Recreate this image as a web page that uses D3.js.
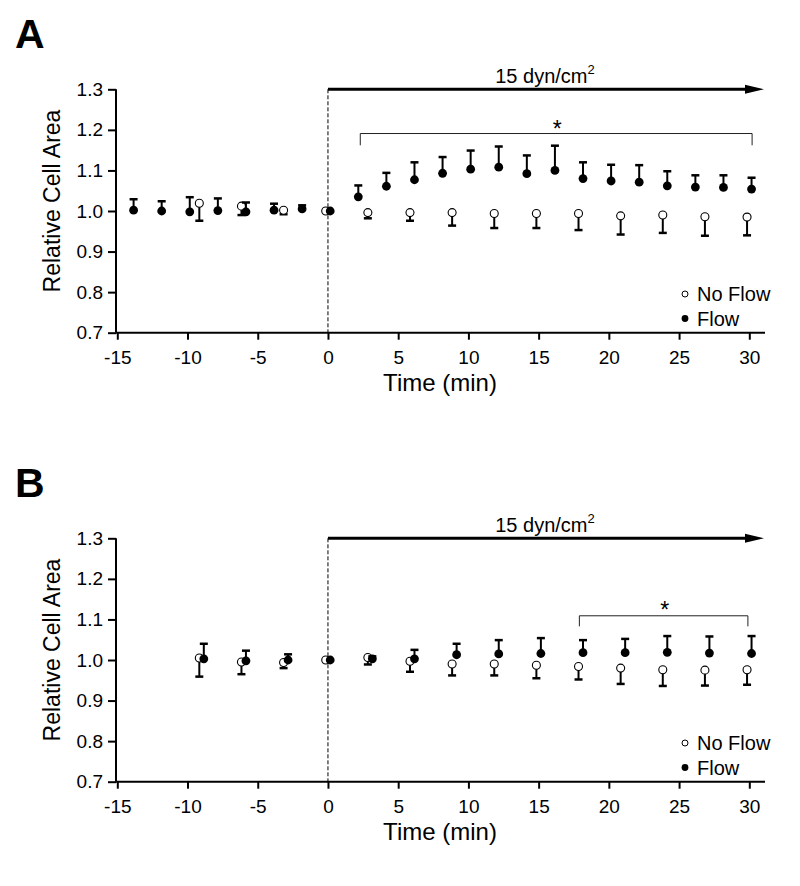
<!DOCTYPE html>
<html>
<head>
<meta charset="utf-8">
<script src="https://cdn.jsdelivr.net/npm/d3@7"></script>
<style>
  html, body { margin: 0; padding: 0; background: #fff; }
  svg { display: block; font-family: "Liberation Sans", Arial, Helvetica, sans-serif; }
</style>
</head>
<body>
<svg id="chart" width="800" height="886"></svg>
<script>
// ---------------- DATA ----------------
const xTicks = [-15, -10, -5, 0, 5, 10, 15, 20, 25, 30];
const xTickLabels = ["-15", "-10", "-5", "0", "5", "10", "15", "20", "25", "30"];
const yTicks = [0.7, 0.8, 0.9, 1.0, 1.1, 1.2, 1.3];
const yTickLabels = ["0.7", "0.8", "0.9", "1.0", "1.1", "1.2", "1.3"];
const seriesNames = ["No Flow", "Flow"];

// Panel A
const aFlowTime  = [-14, -12, -10, -8, -6, -4, -2, 0, 2, 4, 6, 8, 10, 12, 14, 16, 18, 20, 22, 24, 26, 28, 30];
const aFlowMean  = [1.002, 1.000, 0.998, 1.001, 0.998, 1.002, 1.005, 1.000, 1.035, 1.061, 1.077, 1.093, 1.103, 1.108, 1.092, 1.100, 1.080, 1.074, 1.071, 1.062, 1.059, 1.058, 1.054];
const aFlowSE    = [0.027, 0.024, 0.036, 0.030, 0.023, 0.016, 0.009, 0.000, 0.028, 0.033, 0.043, 0.040, 0.046, 0.051, 0.045, 0.061, 0.040, 0.040, 0.042, 0.036, 0.029, 0.030, 0.028];
const aNoFlowTime = [-9, -6, -3, 0, 3, 6, 9, 12, 15, 18, 21, 24, 27, 30];
const aNoFlowMean = [1.019, 1.012, 1.002, 1.000, 0.996, 0.996, 0.996, 0.994, 0.994, 0.994, 0.988, 0.990, 0.986, 0.985];
const aNoFlowSE   = [0.043, 0.022, 0.010, 0.000, 0.014, 0.020, 0.032, 0.036, 0.036, 0.041, 0.046, 0.044, 0.047, 0.045];
const aBracket = [2.3, 30.2];

// Panel B
const bTime       = [-9, -6, -3, 0, 3, 6, 9, 12, 15, 18, 21, 24, 27, 30];
const bFlowMean   = [1.003, 0.998, 1.000, 1.000, 1.003, 1.003, 1.013, 1.015, 1.016, 1.018, 1.018, 1.019, 1.017, 1.016];
const bFlowSE     = [0.037, 0.025, 0.014, 0.000, 0.006, 0.022, 0.027, 0.034, 0.038, 0.031, 0.034, 0.040, 0.041, 0.043];
const bNoFlowMean = [1.005, 0.995, 0.994, 1.000, 1.006, 0.997, 0.990, 0.990, 0.987, 0.984, 0.980, 0.976, 0.975, 0.976];
const bNoFlowSE   = [0.046, 0.030, 0.014, 0.000, 0.017, 0.026, 0.028, 0.028, 0.032, 0.032, 0.039, 0.040, 0.038, 0.037];
const bBracket = [17.9, 29.9];

const flowLabel = "15 dyn/cm";
const panels = [
  { letter: "A", top: 0,   flow: {t: aFlowTime, m: aFlowMean, se: aFlowSE},
    noflow: {t: aNoFlowTime, m: aNoFlowMean, se: aNoFlowSE},
    bracket: aBracket, bracketY: 1.191, bracketEnd: 1.162, starY: 1.186 },
  { letter: "B", top: 449, flow: {t: bTime, m: bFlowMean, se: bFlowSE},
    noflow: {t: bTime, m: bNoFlowMean, se: bNoFlowSE},
    bracket: bBracket, bracketY: 1.109, bracketEnd: 1.083, starY: 1.106 }
];

// ---------------- DRAW ----------------
const svg = d3.select("#chart");
const x = d3.scaleLinear().domain([-15, 30]).range([117.3, 749.3]);
const dodge = 0.16;

panels.forEach(p => {
  const g = svg.append("g").attr("transform", `translate(0,${p.top})`);
  const y = d3.scaleLinear().domain([0.7, 1.3]).range([332.7, 89.3]);

  // panel letter
  g.append("text").attr("x", 15).attr("y", 48)
    .attr("font-size", 41).attr("font-weight", "bold").text(p.letter);

  // y axis
  const yAxis = d3.axisLeft(y).tickValues(yTicks)
    .tickFormat((d, i) => yTickLabels[i]).tickSize(8).tickPadding(5);
  const ya = g.append("g").attr("transform", "translate(116,0)").call(yAxis);
  ya.select(".domain").attr("stroke-width", 2).attr("d", `M0,${y(1.3)}V${y(0.7)}`);
  ya.selectAll(".tick line").attr("stroke-width", 2);
  ya.selectAll("text").attr("font-size", 19).attr("font-family", "Liberation Sans, Arial, sans-serif");

  // x axis
  const xAxis = d3.axisBottom(x).tickValues(xTicks)
    .tickFormat((d, i) => xTickLabels[i]).tickSize(7).tickPadding(11);
  const xa = g.append("g").attr("transform", `translate(0,${y(0.7)})`).call(xAxis);
  xa.select(".domain").attr("stroke-width", 2).attr("d", `M116,0H765`);
  xa.selectAll(".tick line").attr("stroke-width", 2);
  xa.selectAll("text").attr("font-size", 19).attr("font-family", "Liberation Sans, Arial, sans-serif");

  // axis titles
  g.append("text").attr("transform", `translate(60,${201}) rotate(-90)`)
    .attr("text-anchor", "middle").attr("font-size", 23).text("Relative Cell Area");
  g.append("text").attr("x", 440).attr("y", 391)
    .attr("text-anchor", "middle").attr("font-size", 24).text("Time (min)");

  // dashed line at t=0
  g.append("line").attr("x1", x(0)).attr("x2", x(0))
    .attr("y1", y(1.3)).attr("y2", y(0.7))
    .attr("stroke", "#000").attr("stroke-width", 1).attr("stroke-dasharray", "4,2");

  // flow arrow
  g.append("line").attr("x1", x(0)).attr("x2", 748)
    .attr("y1", y(1.3)).attr("y2", y(1.3))
    .attr("stroke", "#000").attr("stroke-width", 3);
  g.append("path")
    .attr("d", `M745,${y(1.3) - 4.5}L764,${y(1.3)}L745,${y(1.3) + 4.5}Z`)
    .attr("fill", "#000");
  const lbl = g.append("text").attr("x", 545).attr("y", 83)
    .attr("text-anchor", "middle").attr("font-size", 20);
  lbl.append("tspan").text(flowLabel);
  lbl.append("tspan").attr("font-size", 13).attr("dy", -9).text("2");

  // significance bracket
  g.append("path")
    .attr("d", `M${x(p.bracket[0])},${y(p.bracketEnd)}V${y(p.bracketY)}H${x(p.bracket[1])}V${y(p.bracketEnd)}`)
    .attr("fill", "none").attr("stroke", "#222").attr("stroke-width", 1);
  g.append("text").attr("x", (x(p.bracket[0]) + x(p.bracket[1])) / 2 + 1)
    .attr("y", y(p.starY) + 1).attr("text-anchor", "middle")
    .attr("font-size", 23).text("*");

  // series
  const drawSeries = (s, filled) => {
    const off = filled ? dodge : -dodge;
    const dir = filled ? 1 : -1;
    const data = s.t.map((t, i) => ({t: t, m: s.m[i], se: s.se[i]}));
    const eg = g.append("g");
    data.filter(d => d.se > 0).forEach(d => {
      const xx = x(d.t + off);
      const y0 = y(d.m), y1 = y(d.m + dir * d.se);
      eg.append("line").attr("x1", xx).attr("x2", xx).attr("y1", y0).attr("y2", y1)
        .attr("stroke", "#000").attr("stroke-width", 2);
      eg.append("line").attr("x1", xx - 4).attr("x2", xx + 4).attr("y1", y1).attr("y2", y1)
        .attr("stroke", "#000").attr("stroke-width", 2.5);
    });
    g.append("g").selectAll("circle").data(data).join("circle")
      .attr("cx", d => x(d.t + off)).attr("cy", d => y(d.m))
      .attr("r", filled ? 4.4 : 4)
      .attr("fill", filled ? "#000" : "#fff")
      .attr("stroke", "#000").attr("stroke-width", filled ? 0 : 1.1);
  };
  drawSeries(p.noflow, false);
  drawSeries(p.flow, true);

  // legend
  const lg = g.append("g");
  seriesNames.forEach((name, i) => {
    const ly = 294 + i * 24.5;
    lg.append("circle").attr("cx", 685).attr("cy", ly).attr("r", i === 0 ? 3 : 3.4)
      .attr("fill", i === 0 ? "#fff" : "#000").attr("stroke", "#000").attr("stroke-width", i === 0 ? 1 : 0);
    lg.append("text").attr("x", 697).attr("y", ly + 7).attr("font-size", 20).text(name);
  });
});
</script>
</body>
</html>
